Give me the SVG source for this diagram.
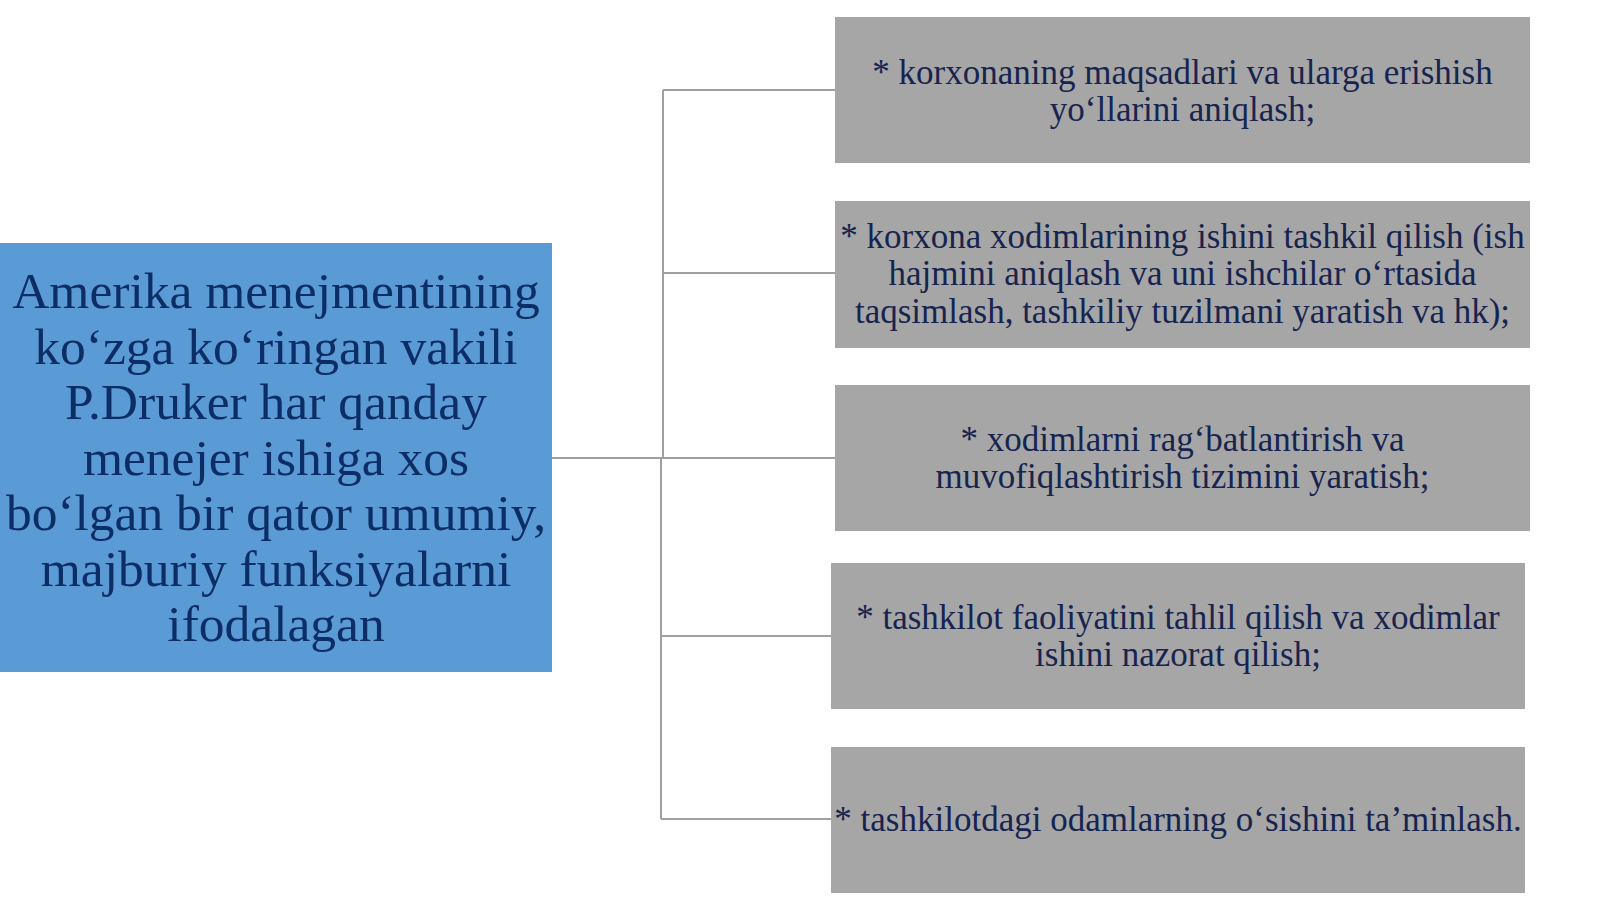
<svg xmlns="http://www.w3.org/2000/svg" width="1600" height="899" viewBox="0 0 1600 899">
<style>
.bg{fill:#ffffff}
.main{fill:#5b9bd5}
.item{fill:#a6a6a6}
.mt{font-family:"Liberation Serif","Times New Roman",serif;font-size:51.5px;fill:#0c2d66;text-anchor:middle}
.it{font-family:"Liberation Serif","Times New Roman",serif;font-size:35px;fill:#16244f;text-anchor:middle}
.conn{stroke:#a0a0a0;stroke-width:2;fill:none}
</style>
<rect class="bg" x="0" y="0" width="1600" height="899"/>
<g id="connectors">
<path class="conn" d="M552 458H835"/>
<path class="conn" d="M663 90V458"/>
<path class="conn" d="M661 458V819"/>
<path class="conn" d="M663 90H835"/>
<path class="conn" d="M663 273H835"/>
<path class="conn" d="M661 636H831"/>
<path class="conn" d="M661 819H831"/>
</g>
<g id="node-main">
<rect class="main" x="0" y="243" width="552" height="429"/>
<text class="mt" x="276" y="308">Amerika menejmentining</text>
<text class="mt" x="276" y="363.5">ko‘zga ko‘ringan vakili</text>
<text class="mt" x="276" y="419">P.Druker har qanday</text>
<text class="mt" x="276" y="474.5">menejer ishiga xos</text>
<text class="mt" x="276" y="530">bo‘lgan bir qator umumiy,</text>
<text class="mt" x="276" y="585.5">majburiy funksiyalarni</text>
<text class="mt" x="276" y="641">ifodalagan</text>
</g>
<g id="node-1">
<rect class="item" x="835" y="17" width="695" height="146"/>
<text class="it" x="1182.5" y="83.5">* korxonaning maqsadlari va ularga erishish</text>
<text class="it" x="1182.5" y="120.5">yo‘llarini aniqlash;</text>
</g>
<g id="node-2">
<rect class="item" x="835" y="201" width="695" height="147"/>
<text class="it" x="1182.5" y="247.5">* korxona xodimlarining ishini tashkil qilish (ish</text>
<text class="it" x="1182.5" y="285">hajmini aniqlash va uni ishchilar o‘rtasida</text>
<text class="it" x="1182.5" y="322.5">taqsimlash, tashkiliy tuzilmani yaratish va hk);</text>
</g>
<g id="node-3">
<rect class="item" x="835" y="385" width="695" height="146"/>
<text class="it" x="1182.5" y="450.5">* xodimlarni rag‘batlantirish va</text>
<text class="it" x="1182.5" y="488">muvofiqlashtirish tizimini yaratish;</text>
</g>
<g id="node-4">
<rect class="item" x="831" y="563" width="694" height="146"/>
<text class="it" x="1178" y="628.5">* tashkilot faoliyatini tahlil qilish va xodimlar</text>
<text class="it" x="1178" y="665.5">ishini nazorat qilish;</text>
</g>
<g id="node-5">
<rect class="item" x="831" y="747" width="694" height="146"/>
<text class="it" x="1178" y="830.5">* tashkilotdagi odamlarning o‘sishini ta’minlash.</text>
</g>
</svg>
